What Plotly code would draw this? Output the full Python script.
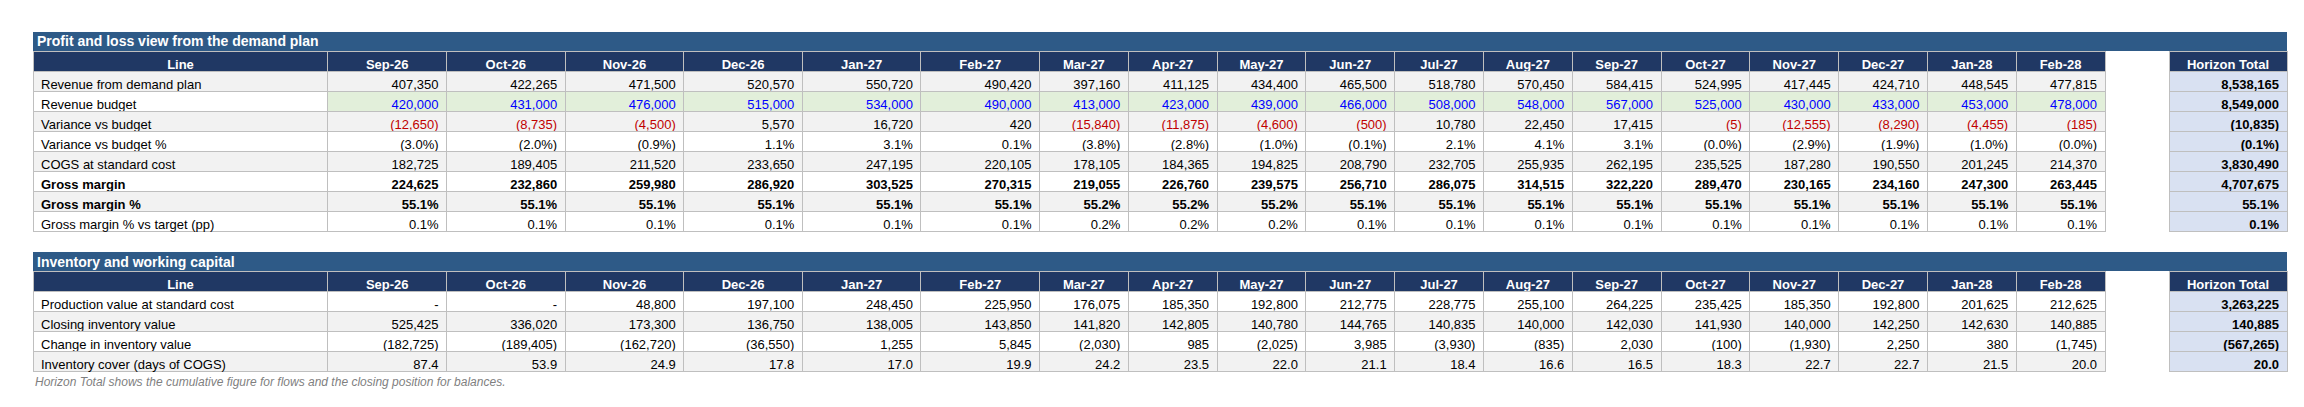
import math
import plotly.graph_objects as go

W, H = 2304, 407

months = ["Sep-26", "Oct-26", "Nov-26", "Dec-26", "Jan-27", "Feb-27", "Mar-27", "Apr-27", "May-27",
          "Jun-27", "Jul-27", "Aug-27", "Sep-27", "Oct-27", "Nov-27", "Dec-27", "Jan-28", "Feb-28"]

# ---- Profit and loss ----
revenue = [407350, 422265, 471500, 520570, 550720, 490420, 397160, 411125, 434400,
           465500, 518780, 570450, 584415, 524995, 417445, 424710, 448545, 477815]
budget = [420000, 431000, 476000, 515000, 534000, 490000, 413000, 423000, 439000,
          466000, 508000, 548000, 567000, 525000, 430000, 433000, 453000, 478000]
variance = [-12650, -8735, -4500, 5570, 16720, 420, -15840, -11875, -4600,
            -500, 10780, 22450, 17415, -5, -12555, -8290, -4455, -185]
variance_pct = [-3.0, -2.0, -0.9, 1.1, 3.1, 0.1, -3.8, -2.8, -1.0,
                -0.1, 2.1, 4.1, 3.1, -0.0, -2.9, -1.9, -1.0, -0.0]
cogs = [182725, 189405, 211520, 233650, 247195, 220105, 178105, 184365, 194825,
        208790, 232705, 255935, 262195, 235525, 187280, 190550, 201245, 214370]
gross_margin = [224625, 232860, 259980, 286920, 303525, 270315, 219055, 226760, 239575,
                256710, 286075, 314515, 322220, 289470, 230165, 234160, 247300, 263445]
gross_margin_pct = [55.1, 55.1, 55.1, 55.1, 55.1, 55.1, 55.2, 55.2, 55.2,
                    55.1, 55.1, 55.1, 55.1, 55.1, 55.1, 55.1, 55.1, 55.1]
gm_vs_target = [0.1, 0.1, 0.1, 0.1, 0.1, 0.1, 0.2, 0.2, 0.2,
                0.1, 0.1, 0.1, 0.1, 0.1, 0.1, 0.1, 0.1, 0.1]
pl_totals = [8538165, 8549000, -10835, -0.1, 3830490, 4707675, 55.1, 0.1]

# ---- Inventory ----
production = [0, 0, 48800, 197100, 248450, 225950, 176075, 185350, 192800,
              212775, 228775, 255100, 264225, 235425, 185350, 192800, 201625, 212625]
closing_inventory = [525425, 336020, 173300, 136750, 138005, 143850, 141820, 142805, 140780,
                     144765, 140835, 140000, 142030, 141930, 140000, 142250, 142630, 140885]
inventory_change = [-182725, -189405, -162720, -36550, 1255, 5845, -2030, 985, -2025,
                    3985, -3930, -835, 2030, -100, -1930, 2250, 380, -1745]
inventory_cover = [87.4, 53.9, 24.9, 17.8, 17.0, 19.9, 24.2, 23.5, 22.0,
                   21.1, 18.4, 16.6, 16.5, 18.3, 22.7, 22.7, 21.5, 20.0]
inv_totals = [3263225, 140885, -567265, 20.0]

FONT = "Arial, Liberation Sans, sans-serif"
TITLE_BG = "#2E5A87"
HEAD_BG = "#203864"
GRID = "#BFBFBF"
GREY = "#F2F2F2"
GREEN = "#E2EFDA"
TOTAL_BG = "#D9E1F2"
RED = "#C00000"
BLUE = "#0000FF"


def is_neg(v):
    return v < 0 or (v == 0 and math.copysign(1.0, v) < 0)


def f_num(v):
    if v == 0 and not is_neg(v):
        return "-"
    return f"({abs(v):,.0f})" if is_neg(v) else f"{v:,.0f}"


def f_pct(v):
    return f"({abs(v):.1f}%)" if is_neg(v) else f"{v:.1f}%"


def f_dec(v):
    return f"({abs(v):.1f})" if is_neg(v) else f"{v:.1f}"


def px_x(x):
    return x / W


def px_y(y):
    return 1 - y / H


# rows: label, values, total, formatter, bold, kind, fill
pl_rows = [
    ("Revenue from demand plan", revenue, pl_totals[0], f_num, False, "plain", GREY),
    ("Revenue budget", budget, pl_totals[1], f_num, False, "budget", "white"),
    ("Variance vs budget", variance, pl_totals[2], f_num, False, "variance", GREY),
    ("Variance vs budget %", variance_pct, pl_totals[3], f_pct, False, "plain", "white"),
    ("COGS at standard cost", cogs, pl_totals[4], f_num, False, "plain", GREY),
    ("Gross margin", gross_margin, pl_totals[5], f_num, True, "plain", "white"),
    ("Gross margin %", gross_margin_pct, pl_totals[6], f_pct, True, "plain", GREY),
    ("Gross margin % vs target (pp)", gm_vs_target, pl_totals[7], f_pct, False, "plain", "white"),
]

inv_rows = [
    ("Production value at standard cost", production, inv_totals[0], f_num, False, "plain", "white"),
    ("Closing inventory value", closing_inventory, inv_totals[1], f_num, False, "plain", GREY),
    ("Change in inventory value", inventory_change, inv_totals[2], f_num, False, "plain", "white"),
    ("Inventory cover (days of COGS)", inventory_cover, inv_totals[3], f_dec, False, "plain", GREY),
]

# column geometry (pixels)
LEFT = 25
label_w = 295
wide_w = 118.6
narrow_w = 88.8
col_widths = [label_w] + [wide_w] * 6 + [narrow_w] * 12
main_right = LEFT + sum(col_widths)
TOT_L, TOT_R = 2161, 2279
ROW_H = 20

fig = go.Figure()


def row_table(values, fills, colors, weight, aligns, y_top):
    """One table row, drawn as a header-only Plotly table."""
    fig.add_trace(go.Table(
        domain=dict(x=[px_x(LEFT), px_x(main_right)], y=[px_y(y_top + ROW_H + 2), px_y(y_top)]),
        columnwidth=col_widths,
        header=dict(values=values, fill_color=fills, line=dict(color=GRID, width=1),
                    font=dict(family=FONT, size=13, color=colors, weight=weight),
                    align=aligns, height=ROW_H),
    ))


def add_section(rows, title, top):
    head_top = top + ROW_H - 1
    n = len(months)
    # column header row
    row_table(["Line"] + months, [HEAD_BG] * (n + 1), ["white"] * (n + 1), "bold",
              ["center"] * (n + 1), head_top)
    # data rows
    for i, (lab, series, tot, fm, bold, kind, fill) in enumerate(rows):
        vals = [lab] + [fm(v) for v in series]
        if kind == "budget":
            fills = [fill] + [GREEN] * n
            cols = ["black"] + [BLUE] * n
        else:
            fills = [fill] * (n + 1)
            cols = ["black"] + [RED if (kind == "variance" and is_neg(v)) else "black" for v in series]
        row_table(vals, fills, cols, "bold" if bold else "normal",
                  ["left"] + ["right"] * n, head_top + ROW_H * (i + 1))
    # horizon total column
    bottom = head_top + ROW_H * (len(rows) + 1) + 2
    tot_vals = [r[3](r[2]) for r in rows]
    fig.add_trace(go.Table(
        domain=dict(x=[px_x(TOT_L), px_x(TOT_R)], y=[px_y(bottom), px_y(head_top)]),
        header=dict(values=["Horizon Total"], fill_color=HEAD_BG,
                    line=dict(color=GRID, width=1),
                    font=dict(family=FONT, size=13, color="white", weight="bold"),
                    align="center", height=ROW_H),
        cells=dict(values=[tot_vals], fill_color=TOTAL_BG, line=dict(color=GRID, width=1),
                   font=dict(family=FONT, size=13, color="black", weight="bold"),
                   align="right", height=ROW_H),
    ))
    # section title bar
    fig.add_shape(type="rect", xref="paper", yref="paper",
                  x0=px_x(LEFT), x1=px_x(TOT_R), y0=px_y(head_top), y1=px_y(top),
                  fillcolor=TITLE_BG, line=dict(width=0), layer="below")
    fig.add_annotation(xref="paper", yref="paper", x=px_x(LEFT + 2), y=px_y(top + (ROW_H - 1) / 2),
                       xanchor="left", yanchor="middle", showarrow=False,
                       text=title, font=dict(family=FONT, size=14, color="white", weight="bold"))


add_section(pl_rows, "Profit and loss view from the demand plan", 24)
add_section(inv_rows, "Inventory and working capital", 244)

fig.add_annotation(xref="paper", yref="paper", x=px_x(LEFT), y=px_y(374),
                   xanchor="left", yanchor="middle", showarrow=False,
                   text="Horizon Total shows the cumulative figure for flows and the closing position for balances.",
                   font=dict(family=FONT, size=12, color="#7F7F7F", style="italic"))

fig.update_layout(width=W, height=H, margin=dict(l=0, r=0, t=0, b=0),
                  paper_bgcolor="white", plot_bgcolor="white")

fig.write_html("out.html")
